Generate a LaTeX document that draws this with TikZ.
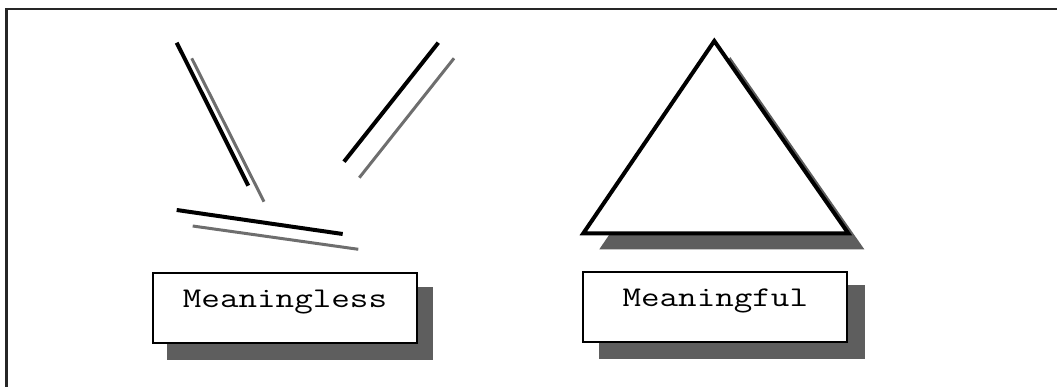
\documentclass[tikz,border=0pt]{standalone}
\usepackage{fontspec}
\newfontfamily\courfont{Latin Modern Mono}[FakeStretch=1.26]
\definecolor{shadowgray}{HTML}{5E5E5E}
\definecolor{linegray}{HTML}{6E6E6E}
\tikzset{
  mainline/.style={line width=4pt, black},
  shadowline/.style={line width=3pt, linegray},
  labelbox/.style={draw=black, line width=2pt, fill=white, inner xsep=0pt, inner ysep=0pt,
     minimum width=264pt, text height=35pt, text depth=35.5pt, anchor=base,
     font=\courfont\fontsize{28.6}{34}\selectfont},
  shadowbox/.style={fill=shadowgray, draw=none}
}
\begin{document}
\begin{tikzpicture}[x=1pt,y=-1pt]
\useasboundingbox (0,0) rectangle (1057,387);
% frame (top and left edges visible)
\draw[line width=2.5pt, black!85] (6.7,400) |- (1060,9);
% scattered lines with their gray shadows
\draw[shadowline] (191.7,58.3) -- (264,201.7);
\draw[mainline] (176.7,42.7) -- (248.3,185.7);
\draw[shadowline] (454,58.3) -- (359.3,177.7);
\draw[mainline] (438.3,42.7) -- (344,161.7);
\draw[shadowline] (192.7,226) -- (358.3,249.3);
\draw[mainline] (176.7,210) -- (342.7,234);
% triangle with shadow
\coordinate (apex) at (714.3,41);
\coordinate (bl) at (583.3,233.3);
\coordinate (br) at (848.3,233.3);
\fill[shadowgray] ([shift={(16,16)}]apex) -- ([shift={(16,16)}]br) -- ([shift={(16,16)}]bl) -- cycle;
\filldraw[fill=white, draw=black, line width=4pt] (apex) -- (br) -- (bl) -- cycle;
% label boxes
\fill[shadowbox] (166.7,286.7) rectangle (433.3,360);
\node[labelbox, minimum width=263.4pt] (meaningless) at (285,307.7) {Meaningless};
\fill[shadowbox] (599,285.5) rectangle (865,359);
\node[labelbox] (meaningful) at (715.3,306.7) {Meaningful};
\end{tikzpicture}
\end{document}
